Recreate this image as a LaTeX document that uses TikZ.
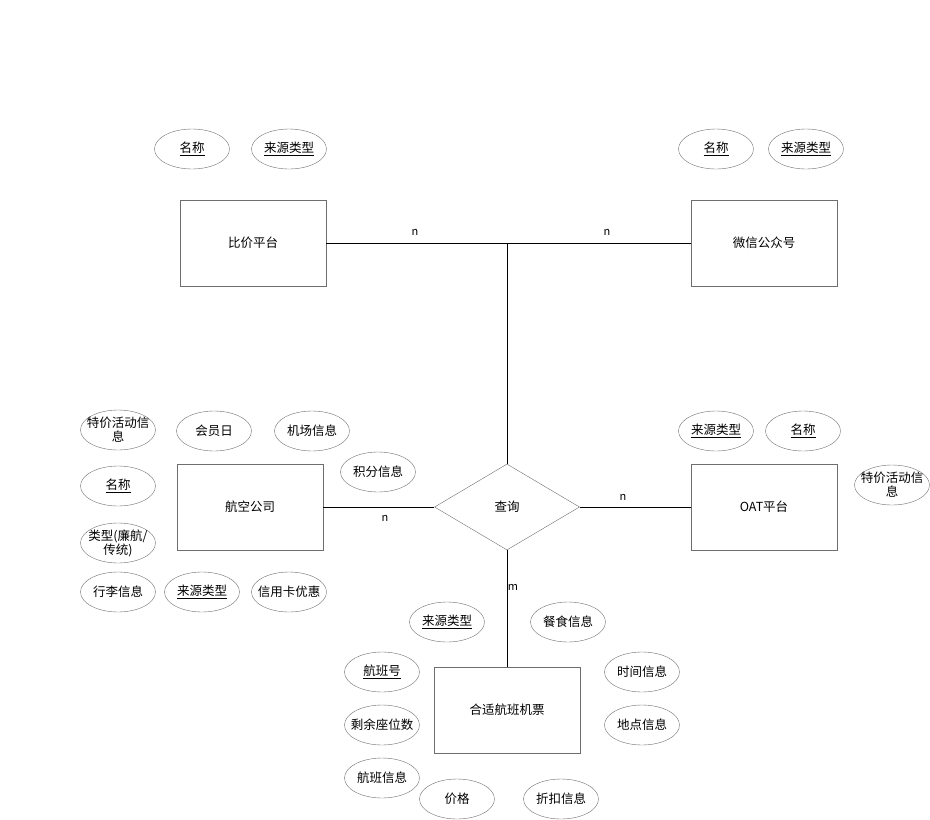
\documentclass[tikz,border=0pt]{standalone}
\usepackage{fontspec}
\newfontfamily\cjk{Noto Sans CJK SC}
\usepackage{tikz}
\usetikzlibrary{
  shapes.geometric,
  positioning
}
\definecolor{EdgeGray}{RGB}{110,110,110}

\begin{document}
\begin{tikzpicture}[
  x=1pt, y=-1pt,
  font=\cjk\fontsize{12.5}{14}\selectfont,
  entity/.style={draw=EdgeGray, minimum width=146pt, minimum height=86pt, inner sep=0pt},
  attr/.style={draw=EdgeGray, ellipse, minimum width=75pt, minimum height=40pt,
               inner xsep=-5pt, inner ysep=-3pt, align=center},
  rel/.style={draw=EdgeGray, diamond, minimum width=145pt, minimum height=86pt,
              inner sep=0pt, aspect=1.686},
  link/.style={draw=black, line width=0.8pt},
  card/.style={font=\cjk\fontsize{11}{12}\selectfont, inner sep=1pt},
]
  \useasboundingbox (0,0) rectangle (930,820);

  % entities
  \node[entity] (bijia) at (253,243) {比价平台};
  \node[entity] (weixin) at (764,243) {微信公众号};
  \node[entity] (hangkong) at (250,507) {航空公司};
  \node[entity] (oat) at (764,507) {OAT平台};
  \node[entity] (jipiao) at (507,710) {合适航班机票};
  \node[rel] (chaxun) at (507,507) {查询};

  % attributes
  \node[attr] (bjName) at (192,149) {\underline{名称}};
  \node[attr] (bjSrc) at (289,149) {\underline{来源类型}};
  \node[attr] (wxName) at (716,149) {\underline{名称}};
  \node[attr] (wxSrc) at (806,149) {\underline{来源类型}};

  \node[attr] (hkSale) at (118,430) {特价活动信\\息};
  \node[attr] (hkMember) at (214,431) {会员日};
  \node[attr] (hkAirport) at (312,431) {机场信息};
  \node[attr] (hkPoints) at (378,472) {积分信息};
  \node[attr] (hkName) at (118,486) {\underline{名称}};
  \node[attr] (hkType) at (118,543) {类型(廉航/\\传统)};
  \node[attr] (hkBag) at (118,592) {行李信息};
  \node[attr] (hkSrc) at (202,592) {\underline{来源类型}};
  \node[attr] (hkCard) at (289,592) {信用卡优惠};

  \node[attr] (oatSrc) at (716,431) {\underline{来源类型}};
  \node[attr] (oatName) at (803,431) {\underline{名称}};
  \node[attr] (oatSale) at (892,485) {特价活动信\\息};

  \node[attr] (jpSrc) at (447,622) {\underline{来源类型}};
  \node[attr] (jpMeal) at (568,622) {餐食信息};
  \node[attr] (jpNo) at (382,672) {\underline{航班号}};
  \node[attr] (jpTime) at (642,672) {时间信息};
  \node[attr] (jpSeat) at (382,725) {剩余座位数};
  \node[attr] (jpPlace) at (642,725) {地点信息};
  \node[attr] (jpInfo) at (382,778) {航班信息};
  \node[attr] (jpPrice) at (457,799) {价格};
  \node[attr] (jpDisc) at (561,799) {折扣信息};

  % relations
  \coordinate (join) at (chaxun.north |- bijia.east);
  \draw[link] (bijia.east) -- (weixin.west);
  \draw[link] (join) -- (chaxun.north);
  \draw[link] (hangkong.east) -- (chaxun.west);
  \draw[link] (chaxun.east) -- (oat.west);
  \draw[link] (chaxun.south) -- (jipiao.north);

  \node[card] (c1) at (415,232) {n};
  \node[card] (c2) at (607,232) {n};
  \node[card] (c3) at (385,518) {n};
  \node[card] (c4) at (623,497) {n};
  \node[card] (c5) at (513,587) {m};
\end{tikzpicture}
\end{document}
